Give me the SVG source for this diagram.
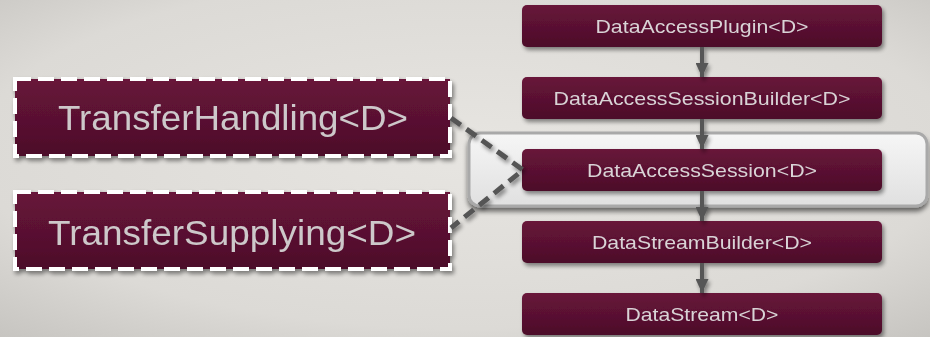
<svg xmlns="http://www.w3.org/2000/svg" width="930" height="337" viewBox="0 0 930 337">
  <defs>
    <radialGradient id="bg" cx="50%" cy="45%" r="75%">
      <stop offset="0" stop-color="#e7e5e1"/>
      <stop offset="0.7" stop-color="#dcdad6"/>
      <stop offset="1" stop-color="#c6c4c0"/>
    </radialGradient>
    <linearGradient id="nodeFill" x1="0" y1="0" x2="0" y2="1">
      <stop offset="0" stop-color="#68143a"/>
      <stop offset="1" stop-color="#4c0e29"/>
    </linearGradient>
    <linearGradient id="panelFill" x1="0" y1="0" x2="0" y2="1">
      <stop offset="0" stop-color="#f6f6f6"/>
      <stop offset="1" stop-color="#e0e0e0"/>
    </linearGradient>
    <filter id="shadow" x="-10%" y="-20%" width="125%" height="160%">
      <feGaussianBlur in="SourceAlpha" stdDeviation="2"/>
      <feOffset dx="2" dy="3" result="b"/>
      <feComponentTransfer><feFuncA type="linear" slope="0.45"/></feComponentTransfer>
      <feMerge><feMergeNode/><feMergeNode in="SourceGraphic"/></feMerge>
    </filter>
    <filter id="panelShadow" x="-5%" y="-20%" width="110%" height="160%">
      <feGaussianBlur in="SourceAlpha" stdDeviation="2.5"/>
      <feOffset dx="0" dy="4"/>
      <feComponentTransfer><feFuncA type="linear" slope="0.55"/></feComponentTransfer>
      <feMerge><feMergeNode/><feMergeNode in="SourceGraphic"/></feMerge>
    </filter>
    <marker id="arrowHead" viewBox="0 0 14 13" refX="14" refY="6.5" markerUnits="userSpaceOnUse" markerWidth="14" markerHeight="13" orient="auto">
      <path d="M0,0 L14,6.5 L0,13 Z" fill="#575757"/>
    </marker>
    <style>
      .node rect { fill: url(#nodeFill); }
      .iface rect { fill: url(#nodeFill); stroke: #ffffff; stroke-width: 4; stroke-dasharray: 16 7; }
      .label { font-family: "Liberation Sans", Arial, sans-serif; fill: #d9d3d6; text-anchor: middle; }
      .small { font-size: 19px; }
      .big { font-size: 35px; fill: #cdc8ca; }
      .flow { stroke: #575757; stroke-width: 4; fill: none; marker-end: url(#arrowHead); }
      .dash { stroke: #555555; stroke-width: 5; fill: none; stroke-dasharray: 12 7; }
    </style>
  </defs>

  <!-- background -->
  <rect x="0" y="0" width="930" height="337" fill="url(#bg)"/>

  <!-- highlight panel behind the session node -->
  <g id="highlight" filter="url(#panelShadow)">
    <rect x="469" y="133" width="458" height="73" rx="11" fill="url(#panelFill)" stroke="#a9a9a9" stroke-width="3"/>
  </g>

  <!-- interface boxes -->
  <g id="transferHandling" class="iface" filter="url(#shadow)">
    <rect x="15" y="79" width="435" height="77"/>
    <text class="label big" x="233" y="130" textLength="350" lengthAdjust="spacingAndGlyphs">TransferHandling&lt;D&gt;</text>
  </g>
  <g id="transferSupplying" class="iface" filter="url(#shadow)">
    <rect x="15" y="192" width="435" height="77"/>
    <text class="label big" x="232" y="245" textLength="368" lengthAdjust="spacingAndGlyphs">TransferSupplying&lt;D&gt;</text>
  </g>

  <!-- chain of classes -->
  <g id="dataAccessPlugin" class="node" filter="url(#shadow)">
    <rect x="522" y="5" width="360" height="42" rx="5"/>
    <text class="label small" x="702" y="33" textLength="213" lengthAdjust="spacingAndGlyphs">DataAccessPlugin&lt;D&gt;</text>
  </g>
  <g id="dataAccessSessionBuilder" class="node" filter="url(#shadow)">
    <rect x="522" y="77" width="360" height="42" rx="5"/>
    <text class="label small" x="702" y="105" textLength="297" lengthAdjust="spacingAndGlyphs">DataAccessSessionBuilder&lt;D&gt;</text>
  </g>
  <g id="dataAccessSession" class="node" filter="url(#shadow)">
    <rect x="522" y="149" width="360" height="42" rx="5"/>
    <text class="label small" x="702" y="177" textLength="230" lengthAdjust="spacingAndGlyphs">DataAccessSession&lt;D&gt;</text>
  </g>
  <g id="dataStreamBuilder" class="node" filter="url(#shadow)">
    <rect x="522" y="221" width="360" height="42" rx="5"/>
    <text class="label small" x="702" y="249" textLength="220" lengthAdjust="spacingAndGlyphs">DataStreamBuilder&lt;D&gt;</text>
  </g>
  <g id="dataStream" class="node" filter="url(#shadow)">
    <rect x="522" y="293" width="360" height="42" rx="5"/>
    <text class="label small" x="702" y="321" textLength="153" lengthAdjust="spacingAndGlyphs">DataStream&lt;D&gt;</text>
  </g>

  <!-- connectors -->
  <g id="connectors" filter="url(#shadow)">
    <line class="flow" x1="702" y1="47" x2="702" y2="77"/>
    <line class="flow" x1="702" y1="119" x2="702" y2="149"/>
    <line class="flow" x1="702" y1="191" x2="702" y2="221"/>
    <line class="flow" x1="702" y1="263" x2="702" y2="293"/>
    <path class="dash" d="M451,118 L523,170 L451,228"/>
  </g>
</svg>
